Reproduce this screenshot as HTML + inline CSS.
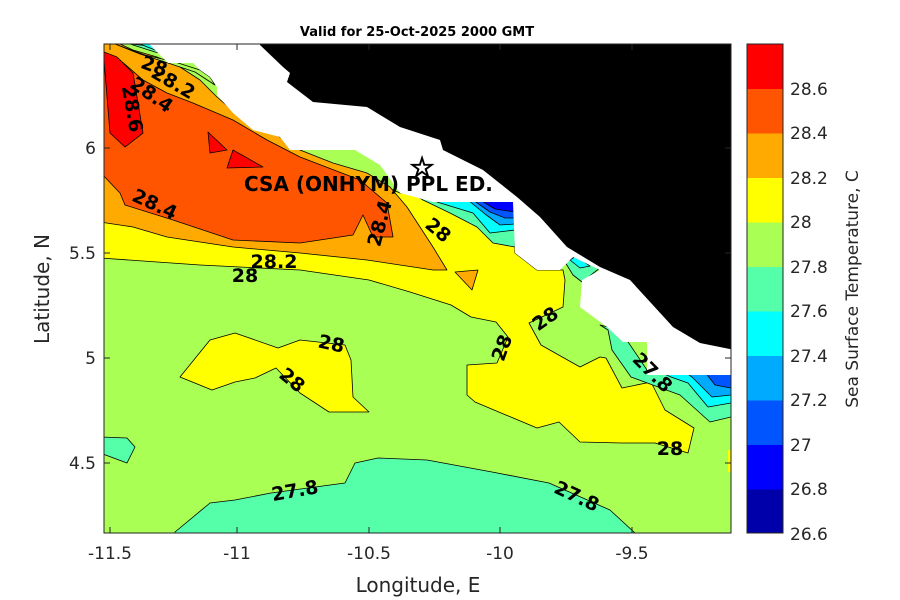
<!DOCTYPE html>
<html><head><meta charset="utf-8"><style>
body{margin:0;background:#fff;}
svg{display:block;font-family:"DejaVu Sans","Liberation Sans",sans-serif;}
</style></head><body>
<svg width="900" height="600" viewBox="0 0 900 600" xmlns="http://www.w3.org/2000/svg">
<defs><clipPath id="c"><rect x="104" y="44" width="627" height="489"/></clipPath></defs>
<g clip-path="url(#c)" stroke="#000" stroke-width="0.8" stroke-linejoin="round">
<rect x="104" y="44" width="627" height="489" fill="#aaff55" stroke="none"/>
<polygon fill="#55ffaa" points="175,540 175,532 210,503 235,500 271,493 345,483 355,463 378,458 427,460 492,472 549,483 610,510 635,533 640,540"/>
<polygon fill="#55ffaa" points="100,437 127,438 135,447 127,463 100,453"/>
<polygon fill="#ffff00" points="180,377 210,340 235,333 278,348 300,340 345,345 351,360 353,397 369,412 329,412 300,393 276,368 255,378 235,382 212,390"/>
<polygon fill="#ffff00" points="100,258 200,265 300,270 369,280 410,292 451,305 471,317 496,322 508,337 497,363 467,365 467,395 475,402 537,428 559,422 580,442 622,443 655,443 688,453 694,428 665,410 651,382 622,388 606,358 600,357 580,367 541,345 529,323 563,307 565,280 563,270 537,270 515,253 513,202 400,193 300,150 100,44"/>
<polygon fill="#ffff00" stroke="none" points="728,450 735,450 735,472 728,472"/>
<polygon fill="#55ffaa" points="415,195 423,200 450,213 477,227 493,243 515,247 515,200 415,195"/>
<polygon fill="#00ffff" points="437,202 473,213 490,233 515,230 515,200 437,200"/>
<polygon fill="#00aaff" points="468,200 485,214 500,225 515,224 515,200"/>
<polygon fill="#0055ff" points="473,200 490,212 505,218 515,218 515,200"/>
<polygon fill="#0000ff" points="480,200 495,209 515,212 515,200"/>
<polygon fill="#55ffaa" points="565,262 575,258 600,268 582,282 573,275"/>
<polygon fill="#00ffff" points="570,260 576,256 590,266 580,268"/>
<polygon fill="#55ffaa" points="600,325 608,330 612,350 631,377 680,395 710,422 731,417 731,370 647,370 620,330"/>
<polygon fill="#00ffff" points="660,372 671,377 688,383 708,407 731,403 731,372"/>
<polygon fill="#00aaff" points="685,372 692,377 712,397 731,395 731,372"/>
<polygon fill="#0055ff" points="705,372 715,385 731,388 731,372"/>
<polygon fill="#ffaa00" points="100,222 133,227 167,237 233,247 300,253 367,260 433,270 447,270 433,247 407,207 390,187 367,173 333,163 300,150 280,137 240,117 217,97 200,80 180,67 157,57 133,50 120,44 100,44"/>
<polygon fill="#ffaa00" points="455,272 478,270 472,290"/>
<polygon fill="#ff5500" points="100,172 120,193 125,205 173,220 233,240 300,243 353,235 363,215 373,237 393,237 387,203 360,180 300,157 267,140 233,120 193,103 167,93 143,80 120,60 100,57"/>
<polygon fill="#ff0000" points="104,60 110,133 125,147 143,133 133,73 117,57 104,52"/>
<polygon fill="#ff0000" points="208,132 210,153 227,150"/>
<polygon fill="#ff0000" points="227,168 263,167 233,150"/>
<polygon fill="#aaff55" points="115,44 145,55 175,62 200,70 210,77 215,85 195,72 165,62 140,54"/>
<polygon fill="#55ffaa" points="130,44 155,52 180,58 170,48"/>
<polygon fill="#00ffff" points="140,44 160,52 170,50 160,44"/>
<polygon fill="#fff" stroke="none" points="150,40 150,45 168,63 193,63 200,70 210,77 217,87 217,95 233,113 253,130 280,137 290,150 355,150 380,165 400,193 433,202 513,202 515,253 537,270 560,270 573,257 600,270 582,280 580,307 607,327 623,342 647,342 647,375 735,375 735,40"/>
<text x="244" y="191" font-weight="bold" font-size="20" fill="#000" stroke="none">CSA (ONHYM) PPL ED.</text>
<polygon fill="#000" stroke="none" points="260,40 260,45 283,67 290,73 287,82 313,102 367,107 400,127 440,140 443,150 483,170 517,197 540,217 567,247 600,267 630,280 673,327 700,343 735,350 735,40"/>
</g>
<rect x="104" y="44" width="627" height="489" fill="none" stroke="#262626" stroke-width="1"/>
<g stroke="#262626" stroke-width="1">
<line x1="110" y1="533" x2="110" y2="527"/><line x1="237" y1="533" x2="237" y2="527"/><line x1="369" y1="533" x2="369" y2="527"/><line x1="500" y1="533" x2="500" y2="527"/><line x1="632" y1="533" x2="632" y2="527"/>
<line x1="110" y1="44" x2="110" y2="50"/><line x1="237" y1="44" x2="237" y2="50"/><line x1="369" y1="44" x2="369" y2="50"/><line x1="500" y1="44" x2="500" y2="50"/><line x1="632" y1="44" x2="632" y2="50"/>
<line x1="104" y1="148" x2="110" y2="148"/><line x1="104" y1="253" x2="110" y2="253"/><line x1="104" y1="358" x2="110" y2="358"/><line x1="104" y1="463" x2="110" y2="463"/>
<line x1="731" y1="148" x2="725" y2="148"/><line x1="731" y1="253" x2="725" y2="253"/><line x1="731" y1="358" x2="725" y2="358"/><line x1="731" y1="463" x2="725" y2="463"/>
</g>
<g font-weight="bold" font-size="19" fill="#000" text-anchor="middle">
<text transform="translate(152,72) rotate(20)">28</text>
<text transform="translate(170,88) rotate(30)">28.2</text>
<text transform="translate(148,100) rotate(35)">28.4</text>
<text transform="translate(126,110) rotate(80)">28.6</text>
<text transform="translate(152,210) rotate(25)">28.4</text>
<text x="274" y="268">28.2</text>
<text x="245" y="282">28</text>
<text transform="translate(386,225) rotate(-75)">28.4</text>
<text transform="translate(434,235) rotate(40)">28</text>
<text transform="translate(330,350) rotate(12)">28</text>
<text transform="translate(288,385) rotate(40)">28</text>
<text transform="translate(508,350) rotate(-70)">28</text>
<text transform="translate(549,324) rotate(-35)">28</text>
<text transform="translate(648,377) rotate(45)">27.8</text>
<text x="670" y="455">28</text>
<text transform="translate(296,497) rotate(-10)">27.8</text>
<text transform="translate(574,502) rotate(25)">27.8</text>
</g>
<text x="422" y="177" font-size="28" text-anchor="middle" fill="#fff" stroke="#000" stroke-width="1.2">☆</text>
<text x="417" y="36" font-size="13" font-weight="bold" text-anchor="middle" fill="#000">Valid for 25-Oct-2025 2000 GMT</text>
<g font-size="17" fill="#262626" text-anchor="middle">
<text x="110" y="559">-11.5</text><text x="237" y="559">-11</text><text x="369" y="559">-10.5</text><text x="500" y="559">-10</text><text x="632" y="559">-9.5</text>
</g>
<g font-size="17" fill="#262626" text-anchor="end">
<text x="96" y="154">6</text><text x="96" y="259">5.5</text><text x="96" y="364">5</text><text x="96" y="469">4.5</text>
</g>
<text x="418" y="592" font-size="20" fill="#262626" text-anchor="middle">Longitude, E</text>
<text transform="translate(49,289) rotate(-90)" font-size="20" fill="#262626" text-anchor="middle">Latitude, N</text>
<g>
<rect x="747" y="44" width="36" height="45" fill="#ff0000"/>
<rect x="747" y="89" width="36" height="44.5" fill="#ff5500"/>
<rect x="747" y="133.5" width="36" height="44.5" fill="#ffaa00"/>
<rect x="747" y="178" width="36" height="44.5" fill="#ffff00"/>
<rect x="747" y="222.5" width="36" height="44.5" fill="#aaff55"/>
<rect x="747" y="267" width="36" height="44.5" fill="#55ffaa"/>
<rect x="747" y="311.5" width="36" height="44.5" fill="#00ffff"/>
<rect x="747" y="356" width="36" height="44.5" fill="#00aaff"/>
<rect x="747" y="400.5" width="36" height="44.5" fill="#0055ff"/>
<rect x="747" y="445" width="36" height="44.5" fill="#0000ff"/>
<rect x="747" y="489.5" width="36" height="43.5" fill="#0000aa"/>
<rect x="747" y="44" width="36" height="489" fill="none" stroke="#262626" stroke-width="1"/>
</g>
<g font-size="17" fill="#262626">
<text x="790" y="95">28.6</text><text x="790" y="139">28.4</text><text x="790" y="184">28.2</text><text x="790" y="228">28</text><text x="790" y="273">27.8</text><text x="790" y="317">27.6</text><text x="790" y="362">27.4</text><text x="790" y="406">27.2</text><text x="790" y="451">27</text><text x="790" y="495">26.8</text><text x="790" y="540">26.6</text>
</g>
<text transform="translate(858,289) rotate(-90)" font-size="17" fill="#262626" text-anchor="middle">Sea Surface Temperature, C</text>
</svg>
</body></html>
